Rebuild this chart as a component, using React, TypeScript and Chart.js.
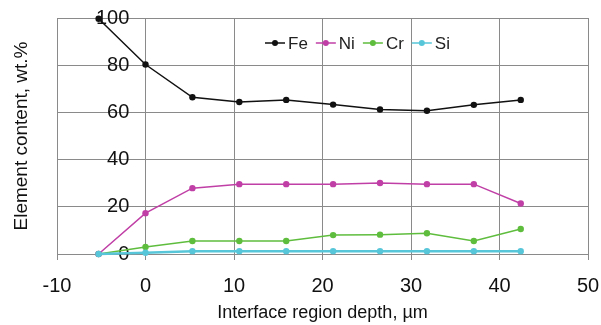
import React, { useEffect, useRef } from "react";
import { Chart, registerables } from "chart.js";

Chart.register(...registerables);

const depth = [-5.3, 0, 5.3, 10.6, 15.9, 21.2, 26.5, 31.8, 37.1, 42.4];
const fe = [99.7, 80.3, 66.4, 64.4, 65.3, 63.3, 61.2, 60.7, 63.2, 65.3];
const ni = [0, 17.3, 27.9, 29.6, 29.6, 29.6, 30.1, 29.6, 29.6, 21.4];
const cr = [0, 3.0, 5.5, 5.5, 5.5, 8.0, 8.2, 8.8, 5.5, 10.6];
const si = [0, 0.5, 1.2, 1.2, 1.2, 1.2, 1.2, 1.2, 1.2, 1.2];

const seriesNames = ["Fe", "Ni", "Cr", "Si"];
const seriesColors = ["#111111", "#c03fa6", "#5fbd3e", "#57c6d9"];
const seriesValues = [fe, ni, cr, si];

const xTitle = "Interface region depth, \u00b5m";
const yTitle = "Element content, wt.%";

const FONT = "'Liberation Sans', Arial, sans-serif";

const legendPlugin = {
  id: "lineDotLegend",
  afterDraw(chart: any) {
    const ctx = chart.ctx;
    ctx.save();
    ctx.font = `17px ${FONT}`;
    ctx.textBaseline = "middle";
    ctx.textAlign = "left";
    let x = 265;
    const y = 43;
    chart.data.datasets.forEach((ds: any) => {
      ctx.strokeStyle = ds.borderColor;
      ctx.lineWidth = 1.5;
      ctx.beginPath();
      ctx.moveTo(x, y);
      ctx.lineTo(x + 20, y);
      ctx.stroke();
      ctx.fillStyle = ds.borderColor;
      ctx.beginPath();
      ctx.arc(x + 10, y, 3, 0, Math.PI * 2);
      ctx.fill();
      ctx.fillStyle = "#222";
      ctx.fillText(ds.label, x + 23, y + 1);
      const w = ctx.measureText(ds.label).width;
      x += 23 + w + 8;
    });
    ctx.restore();
  },
};

export default function App() {
  const ref = useRef<HTMLCanvasElement>(null);
  useEffect(() => {
    if (!ref.current) return;
    const datasets = seriesNames.map((name, i) => ({
      label: name,
      data: depth.map((d, j) => ({ x: d, y: seriesValues[i][j] })),
      borderColor: seriesColors[i],
      backgroundColor: seriesColors[i],
      borderWidth: i === 3 ? 2.5 : 1.5,
      pointRadius: 3.2,
      pointHoverRadius: 3.2,
      pointBorderWidth: 0,
      tension: 0,
      clip: false as any,
      order: i === 3 ? 0 : i + 1,
    }));
    const chart = new Chart(ref.current, {
      type: "line",
      data: { datasets },
      plugins: [legendPlugin],
      options: {
        animation: false,
        responsive: false,
        layout: { padding: { top: 18, right: 13, left: 0, bottom: 0 } },
        plugins: { legend: { display: false }, tooltip: { enabled: false } },
        scales: {
          x: {
            type: "linear",
            min: -10,
            max: 50,
            ticks: {
              stepSize: 10,
              color: "#111",
              font: { family: FONT, size: 20 },
              padding: 14,
            },
            grid: { color: "#8a8a8a", lineWidth: 1, tickLength: 6, drawTicks: true },
            border: { color: "#8a8a8a" },
            title: {
              display: true,
              text: xTitle,
              color: "#111",
              font: { family: FONT, size: 18 },
              padding: { top: 0, bottom: 1 },
            },
            afterFit: (s: any) => {
              s.height = 71;
              s.paddingLeft = 0;
              s.paddingRight = 0;
            },
          },
          y: {
            min: 0,
            max: 100,
            ticks: {
              stepSize: 20,
              mirror: true,
              crossAlign: "far",
              padding: 39,
              color: "#111",
              font: { family: FONT, size: 20 },
            },
            grid: { color: "#8a8a8a", lineWidth: 1, drawTicks: false },
            border: { color: "#8a8a8a" },
            title: {
              display: true,
              text: yTitle,
              color: "#111",
              font: { family: FONT, size: 19 },
              padding: { top: 10, bottom: 0 },
            },
            afterFit: (s: any) => {
              s.width = 57;
              s.paddingTop = 0;
              s.paddingBottom = 0;
            },
          },
        },
      },
    });
    return () => chart.destroy();
  }, []);
  return (
    <div style={{ position: "absolute", left: 0, top: 0, width: 601, height: 325, background: "#fff" }}>
      <canvas ref={ref} width={601} height={325} style={{ display: "block" }} />
    </div>
  );
}
